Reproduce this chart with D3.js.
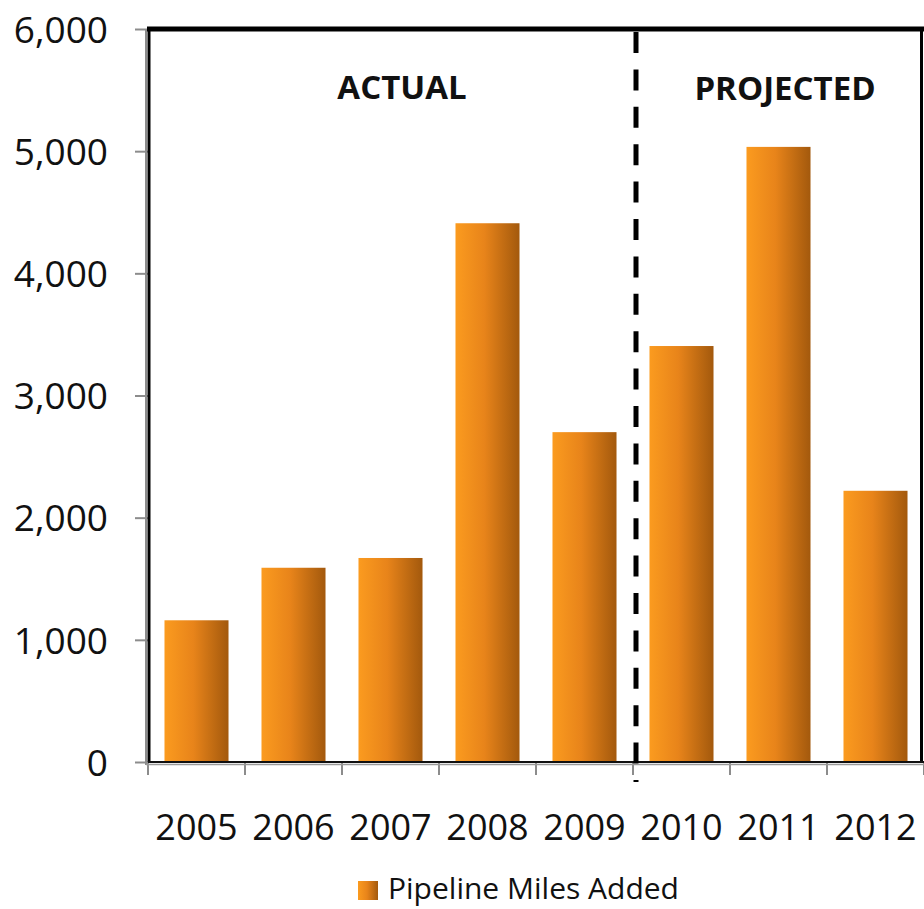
<!DOCTYPE html>
<html>
<head>
<meta charset="utf-8">
<script src="https://cdn.jsdelivr.net/npm/d3@7"></script>
<style>
  body { margin: 0; background: #fff; }
  text { font-family: "Open Sans", sans-serif; fill: #111; }
</style>
</head>
<body>
<div id="chart"></div>
<script>
  // DATA
  var years = ["2005", "2006", "2007", "2008", "2009", "2010", "2011", "2012"];
  var miles = [1160, 1590, 1670, 4410, 2700, 3405, 5035, 2220];
  var yTicks = [0, 1000, 2000, 3000, 4000, 5000, 6000];
  var seriesName = "Pipeline Miles Added";

  var W = 924, H = 909;
  var plotLeft = 148, plotRight = 924, plotTop = 29, plotBottom = 762;

  var svg = d3.select("#chart").append("svg")
      .attr("width", W)
      .attr("height", H);

  // gradient for the bars
  var grad = svg.append("defs").append("linearGradient")
      .attr("id", "barGrad")
      .attr("x1", "0%").attr("x2", "100%")
      .attr("y1", "0%").attr("y2", "0%");
  grad.append("stop").attr("offset", "0%").attr("stop-color", "#fb9b1f");
  grad.append("stop").attr("offset", "45%").attr("stop-color", "#e8841a");
  grad.append("stop").attr("offset", "100%").attr("stop-color", "#a3590d");

  var x = d3.scaleBand()
      .domain(years)
      .range([plotLeft, plotRight])
      .paddingInner(0.34)
      .paddingOuter(0.17);

  var y = d3.scaleLinear()
      .domain([0, 6000])
      .range([plotBottom, plotTop]);

  // BARS
  svg.selectAll("rect.bar")
      .data(years)
      .enter()
      .append("rect")
      .attr("class", "bar")
      .attr("x", function (d) { return x(d); })
      .attr("y", function (d, i) { return y(miles[i]); })
      .attr("width", x.bandwidth())
      .attr("height", function (d, i) { return plotBottom - y(miles[i]); })
      .style("fill", "url(#barGrad)");

  // Y AXIS
  var yAxis = d3.axisLeft(y)
      .tickValues(yTicks)
      .tickFormat(d3.format(","))
      .tickSize(13)
      .tickPadding(27);
  var gy = svg.append("g")
      .attr("transform", "translate(" + plotLeft + ",0)")
      .call(yAxis);
  gy.select(".domain").remove();
  gy.selectAll(".tick line").style("stroke", "#8c8c8c").style("stroke-width", 2);
  gy.selectAll(".tick text")
      .style("font-size", "37px")
      .attr("dy", "0.36em");

  // X AXIS ticks at band boundaries
  var step = x.step();
  var bounds = d3.range(years.length + 1).map(function (i) { return plotLeft + i * step; });
  svg.selectAll("line.xtick")
      .data(bounds)
      .enter()
      .append("line")
      .attr("x1", function (d) { return d; })
      .attr("x2", function (d) { return d; })
      .attr("y1", plotBottom)
      .attr("y2", plotBottom + 13)
      .style("stroke", "#8c8c8c")
      .style("stroke-width", 2);

  svg.selectAll("text.xlab")
      .data(years)
      .enter()
      .append("text")
      .attr("class", "xlab")
      .attr("x", function (d) { return x(d) + x.bandwidth() / 2; })
      .attr("y", 840)
      .style("text-anchor", "middle")
      .style("font-size", "36px")
      .text(function (d) { return d; });

  // FRAME
  svg.append("line")
      .attr("x1", plotLeft - 2).attr("x2", plotLeft - 2)
      .attr("y1", plotTop).attr("y2", plotBottom + 3)
      .style("stroke", "#8c8c8c").style("stroke-width", 2);
  svg.append("line")
      .attr("x1", plotLeft + 1).attr("x2", plotLeft + 1)
      .attr("y1", plotTop).attr("y2", plotBottom)
      .style("stroke", "#000").style("stroke-width", 3);
  svg.append("line")
      .attr("x1", plotLeft - 1).attr("x2", plotRight)
      .attr("y1", plotTop).attr("y2", plotTop)
      .style("stroke", "#000").style("stroke-width", 5);
  svg.append("line")
      .attr("x1", 921.5).attr("x2", 921.5)
      .attr("y1", plotTop).attr("y2", plotBottom)
      .style("stroke", "#000").style("stroke-width", 3);
  svg.append("line")
      .attr("x1", plotLeft).attr("x2", plotRight)
      .attr("y1", plotBottom).attr("y2", plotBottom)
      .style("stroke", "#111").style("stroke-width", 2);
  svg.append("line")
      .attr("x1", plotLeft - 2).attr("x2", plotRight)
      .attr("y1", plotBottom + 2.5).attr("y2", plotBottom + 2.5)
      .style("stroke", "#9a9a9a").style("stroke-width", 1.5);

  // DIVIDER between actual and projected
  var divX = x("2010") - (step - x.bandwidth()) / 2 + 3;
  svg.append("line")
      .attr("x1", divX).attr("x2", divX)
      .attr("y1", plotTop + 3).attr("y2", 782)
      .style("stroke", "#000")
      .style("stroke-width", 5)
      .style("stroke-dasharray", "21,16.4");

  // SECTION LABELS
  svg.append("text")
      .attr("x", 402).attr("y", 99)
      .style("text-anchor", "middle")
      .style("font-size", "33px")
      .style("font-weight", "bold")
      .text("ACTUAL");
  svg.append("text")
      .attr("x", 785).attr("y", 100)
      .style("text-anchor", "middle")
      .style("font-size", "33px")
      .style("font-weight", "bold")
      .text("PROJECTED");

  // LEGEND
  svg.append("rect")
      .attr("x", 358).attr("y", 881)
      .attr("width", 20).attr("height", 19)
      .style("fill", "url(#barGrad)");
  svg.append("text")
      .attr("x", 388).attr("y", 899)
      .style("font-size", "30px")
      .text(seriesName);
</script>
</body>
</html>
